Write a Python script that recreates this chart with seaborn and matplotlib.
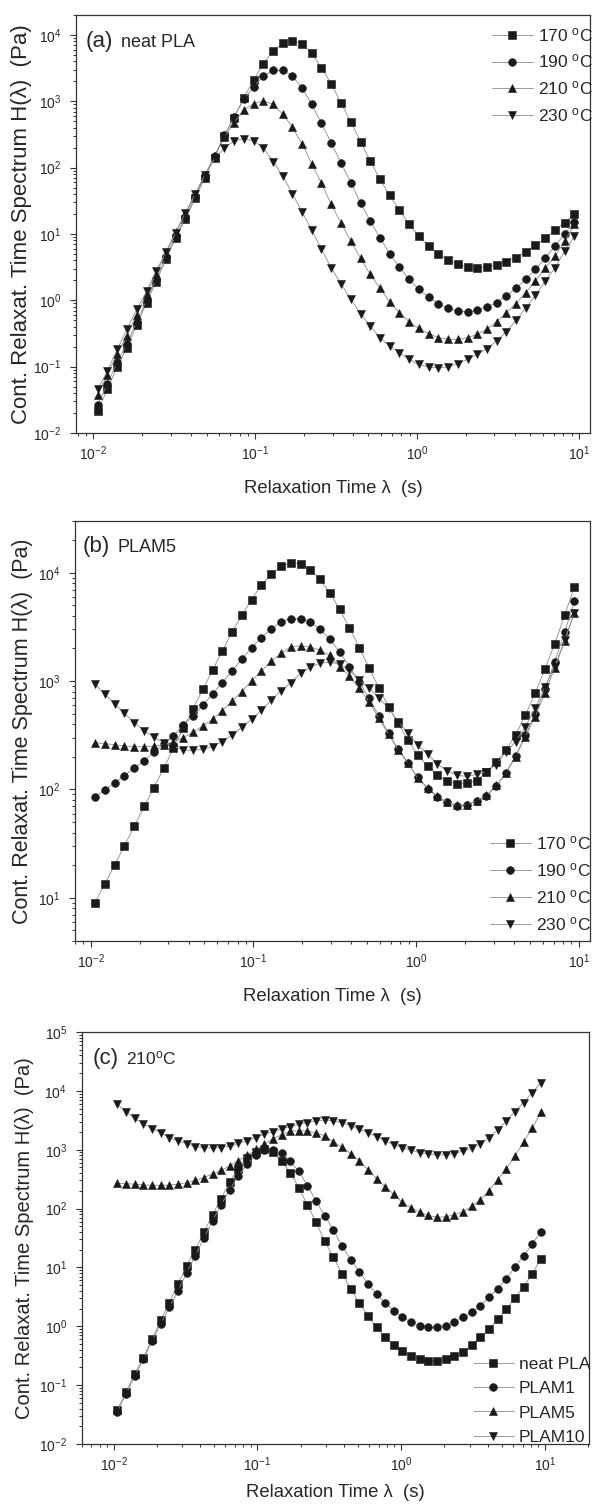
import numpy as np
import matplotlib
matplotlib.use("Agg")
import matplotlib.pyplot as plt
import seaborn as sns
from matplotlib.ticker import LogLocator, NullFormatter

sns.set_style("ticks")
plt.rcParams['font.family'] = ['Liberation Sans', 'DejaVu Sans']
plt.rcParams['mathtext.fontset'] = 'custom'
plt.rcParams['mathtext.rm'] = 'Liberation Sans'
plt.rcParams['mathtext.it'] = 'Liberation Sans:italic'
plt.rcParams['mathtext.bf'] = 'Liberation Sans:bold'

# relaxation times (s), same grid for every curve
lam = [0.0106, 0.0122, 0.0140, 0.0161, 0.0185, 0.0213, 0.0244, 0.0281, 0.0322, 0.0370,
       0.0425, 0.0488, 0.0560, 0.0643, 0.0738, 0.0847, 0.0975, 0.112, 0.129, 0.148,
       0.169, 0.195, 0.223, 0.256, 0.294, 0.338, 0.389, 0.447, 0.513, 0.589,
       0.676, 0.776, 0.891, 1.02, 1.18, 1.35, 1.55, 1.78, 2.05, 2.35,
       2.70, 3.10, 3.56, 4.08, 4.69, 5.38, 6.18, 7.11, 8.17, 9.38]

# (a) neat PLA, H(lambda) in Pa
neat_170 = [0.0215, 0.0455, 0.0989, 0.193, 0.425, 0.923, 1.91, 4.15, 8.81, 16.6,
            34.5, 70.6, 142, 300, 568, 1110, 2080, 3700, 5740, 7480,
            8130, 7400, 5300, 3220, 1850, 955, 488, 247, 126, 66.7,
            38.3, 22.7, 14.3, 9.33, 6.59, 5.06, 4.06, 3.49, 3.18, 3.10,
            3.18, 3.41, 3.83, 4.40, 5.42, 6.75, 8.61, 11.4, 14.8, 19.8]
neat_190 = [0.0265, 0.0550, 0.116, 0.222, 0.476, 1.02, 2.09, 4.52, 9.44, 17.8,
            36.7, 75.0, 150, 309, 575, 1070, 1640, 2410, 2930, 2930,
            2410, 1570, 902, 468, 238, 119, 59.4, 29.6, 15.7, 8.81,
            5.06, 3.18, 2.07, 1.47, 1.12, 0.891, 0.757, 0.690, 0.675, 0.706,
            0.792, 0.923, 1.16, 1.52, 2.07, 2.93, 4.30, 6.59, 10.1, 15.3]
neat_210 = [0.0376, 0.0759, 0.155, 0.288, 0.603, 1.26, 2.51, 5.25, 10.7, 20.0,
            39.8, 77.6, 148, 288, 476, 731, 923, 1010, 902, 637,
            410, 225, 115, 58.9, 28.2, 14.8, 7.83, 4.30, 2.47, 1.52,
            0.955, 0.652, 0.476, 0.378, 0.314, 0.274, 0.258, 0.258, 0.274, 0.307,
            0.366, 0.476, 0.652, 0.891, 1.31, 1.95, 3.03, 4.66, 7.83, 14.0]
neat_230 = [0.0455, 0.0861, 0.182, 0.366, 0.731, 1.38, 2.77, 5.42, 10.5, 21.0,
            40.6, 77.6, 138, 195, 252, 274, 252, 200, 123, 74.8,
            40.6, 21.5, 11.4, 5.98, 3.10, 1.78, 1.04, 0.630, 0.410, 0.274,
            0.205, 0.163, 0.129, 0.108, 0.0989, 0.0966, 0.0989, 0.111, 0.129, 0.153,
            0.187, 0.244, 0.337, 0.499, 0.766, 1.19, 1.95, 3.09, 5.55, 9.33]

# (b) PLAM5
plam5_170 = [8.99, 13.5, 20.0, 30.3, 45.7, 69.8, 104, 157, 240, 369,
             556, 838, 1260, 1900, 2820, 4050, 5660, 7760, 9730, 11500,
             12300, 12100, 10700, 8690, 6550, 4600, 3100, 2030, 1330, 869,
             581, 407, 284, 208, 163, 136, 120, 112, 114, 121,
             145, 179, 232, 318, 486, 771, 1290, 2220, 4050, 7380]
plam5_190 = [84.9, 99.3, 114, 134, 157, 185, 221, 263, 314, 394,
             476, 601, 759, 966, 1240, 1590, 2040, 2520, 3050, 3520,
             3780, 3780, 3520, 3010, 2440, 1860, 1360, 977, 692, 479,
             331, 234, 174, 129, 102, 85.1, 75.9, 70.8, 71.6, 77.6,
             87.1, 107, 141, 204, 316, 501, 851, 1510, 2820, 5450]
plam5_210 = [271, 265, 259, 252, 249, 247, 251, 260, 275, 301,
             337, 385, 444, 533, 655, 798, 1010, 1240, 1540, 1800,
             2080, 2110, 2070, 1930, 1730, 1360, 1110, 857, 646, 453,
             323, 232, 175, 127, 103, 86.3, 76.4, 71.3, 72.3, 78.7,
             88.1, 109, 141, 201, 308, 470, 771, 1330, 2330, 4290]
plam5_230 = [938, 759, 614, 504, 414, 349, 303, 271, 249, 232,
             229, 235, 249, 277, 318, 375, 444, 541, 668, 815,
             966, 1180, 1350, 1460, 1500, 1430, 1260, 1020, 861, 703,
             560, 423, 330, 258, 211, 171, 149, 135, 132, 138,
             145, 169, 221, 277, 380, 560, 887, 1360, 2380, 4290]

# (c) 210 C, other loadings
plam1_210 = [0.0355, 0.0708, 0.141, 0.275, 0.562, 1.10, 2.09, 3.98, 8.13, 15.8,
             31.6, 61.7, 115, 209, 359, 562, 813, 1000, 977, 871,
             631, 427, 245, 136, 75.9, 43.6, 22.9, 13.5, 8.45, 5.22,
             3.53, 2.48, 1.84, 1.42, 1.17, 1.03, 0.962, 0.962, 1.03, 1.17,
             1.42, 1.73, 2.24, 3.10, 4.31, 6.35, 10.0, 15.8, 24.9, 40.4]
plam10_210 = [5920, 4440, 3420, 2780, 2290, 1950, 1610, 1410, 1270, 1130,
              1090, 1060, 1090, 1160, 1290, 1410, 1610, 1830, 2030, 2290,
              2470, 2700, 2890, 3080, 3210, 3080, 2890, 2540, 2220, 1950,
              1650, 1410, 1210, 1090, 979, 893, 837, 817, 817, 859,
              955, 1060, 1270, 1610, 2140, 3080, 4440, 6310, 9330, 13800]

temp_labels = [r'170 $^{\rm o}$C', r'190 $^{\rm o}$C', r'210 $^{\rm o}$C', r'230 $^{\rm o}$C']
blend_labels = ['neat PLA', 'PLAM1', 'PLAM5', 'PLAM10']
marks = ['s', 'o', '^', 'v']
msize = {'s': 5.2, 'o': 5.6, '^': 6.0, 'v': 6.0}

W, H = 592, 1507
fig = plt.figure(figsize=(W / 100, H / 100), dpi=100)


def add_ax(left, top, right, bottom):
    return fig.add_axes([left / W, 1 - bottom / H, (right - left) / W, (bottom - top) / H])


def decades(lo, hi):
    # powers of ten that fall inside the axis range
    return [10.0 ** k for k in range(int(np.ceil(np.log10(lo) - 1e-9)),
                                      int(np.floor(np.log10(hi) + 1e-9)) + 1)]


def draw(ax, curves, labels, xlim, ylim, ylab_size, ylab_x, xlab_y, leg_xy, leg_space):
    ax.set_xscale('log')
    ax.set_yscale('log')
    for vals, lab, mk in zip(curves, labels, marks):
        sns.lineplot(x=lam, y=vals, ax=ax, color='#8c8c8c', lw=0.6, marker=mk,
                     ms=msize[mk], mfc='#1a1a1a', mec='#1a1a1a', mew=0.4,
                     errorbar=None, legend=False, label=lab)
    ax.set_xticks(decades(*xlim))
    ax.set_yticks(decades(*ylim))
    for axis in (ax.xaxis, ax.yaxis):
        axis.set_minor_locator(LogLocator(base=10, subs=np.arange(2, 10), numticks=30))
        axis.set_minor_formatter(NullFormatter())
    ax.set_xlim(*xlim)
    ax.set_ylim(*ylim)
    ax.tick_params(which='major', direction='out', length=4, width=0.8, labelsize=10,
                   color='#333333')
    ax.tick_params(which='minor', direction='out', length=2.3, width=0.7, color='#333333')
    ax.tick_params(axis='x', which='major', pad=4)
    ax.tick_params(axis='y', which='major', pad=6.5)
    for sp in ax.spines.values():
        sp.set_linewidth(0.9)
        sp.set_color('#333333')
    ax.set_xlabel('Relaxation Time λ  (s)', fontsize=13.3)
    ax.set_ylabel('Cont. Relaxat. Time Spectrum H(λ)  (Pa)', fontsize=ylab_size)
    ax.xaxis.set_label_coords(0.5, xlab_y)
    ax.yaxis.set_label_coords(ylab_x, 0.5)
    handles, labs = ax.get_legend_handles_labels()
    ax.legend(handles, labs, loc='upper left',
              bbox_to_anchor=(leg_xy[0] / W, 1 - leg_xy[1] / H),
              bbox_transform=fig.transFigure, frameon=False, fontsize=12.5,
              handlelength=2.35, handletextpad=0.3, labelspacing=leg_space,
              borderpad=0, borderaxespad=0)


# (a)
ax_a = add_ax(76, 15, 590, 433)
draw(ax_a, [neat_170, neat_190, neat_210, neat_230], temp_labels,
     (0.0078, 11.7), (0.01, 2e4), 16, -0.086, -0.112, (492, 26), 0.5)
fig.text(86 / W, 1 - 47.3 / H, '(a)', fontsize=16, va='baseline')
fig.text(120.7 / W, 1 - 47.3 / H, 'neat PLA', fontsize=13, va='baseline')

# (b)
ax_b = add_ax(75, 521, 590, 941)
draw(ax_b, [plam5_170, plam5_190, plam5_210, plam5_230], temp_labels,
     (0.008, 11.7), (4, 3e4), 15.5, -0.082, -0.112, (490, 834), 0.52)
fig.text(82.7 / W, 1 - 552.3 / H, '(b)', fontsize=16, va='baseline')
fig.text(117.3 / W, 1 - 552.3 / H, 'PLAM5', fontsize=13, va='baseline')

# (c)
ax_c = add_ax(81.7, 1032, 589, 1444)
draw(ax_c, [neat_210, plam1_210, plam5_210, plam10_210], blend_labels,
     (0.006, 20.3), (0.01, 1e5), 14.5, -0.094, -0.097, (473, 1357), 0.52)
fig.text(92.7 / W, 1 - 1064.3 / H, '(c)', fontsize=16, va='baseline')
fig.text(126 / W, 1 - 1064.3 / H, r'210$^{\rm o}$C', fontsize=12.5, va='baseline')

fig.savefig('out.png', dpi=100)
